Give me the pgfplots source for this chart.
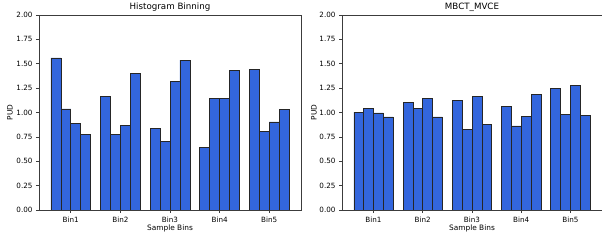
\documentclass[border=0pt]{standalone}
\usepackage{pgfplots}
\pgfplotsset{compat=1.18}
\usepackage{fontspec}
\setmainfont{DejaVu Sans}
\definecolor{barfill}{RGB}{51,102,221}
\definecolor{spine}{RGB}{60,60,60}
\newcommand{\tickfont}{\fontsize{7.2}{8}\selectfont}
\newcommand{\labfont}{\fontsize{7.4}{8}\selectfont}
\newcommand{\titfont}{\fontsize{8.7}{10}\selectfont}

% Histogram Binning
\pgfplotstableread{
x a b c d
0 1.559 1.036 0.889 0.776
1 1.162 0.776 0.868 1.402
2 0.838 0.704 1.320 1.538
3 0.639 1.145 1.145 1.432
4 1.446 0.807 0.903 1.032
}\histtab
% MBCT_MVCE
\pgfplotstableread{
x a b c d
0 1.005 1.043 0.995 0.954
1 1.105 1.043 1.142 0.954
2 1.128 0.828 1.167 0.879
3 1.063 0.862 0.964 1.187
4 1.249 0.982 1.282 0.968
}\mbcttab

\pgfplotsset{
  every axis title shift=0pt,
  mystyle/.style={
    scale only axis,
    anchor=south west,
    height=195pt,
    ymin=0, ymax=2,
    xmin=-0.64, xmax=4.64,
    xtick={0,1,2,3,4},
    xticklabels={Bin1,Bin2,Bin3,Bin4,Bin5},
    ytick={0,0.25,0.5,0.75,1,1.25,1.5,1.75,2},
    yticklabel style={/pgf/number format/fixed,/pgf/number format/fixed zerofill,/pgf/number format/precision=2},
    /pgf/number format/assume math mode=true,
    tick label style={font=\tickfont, text=black},
    tick align=outside,
    major tick length=3pt,
    tick style={spine, line width=0.6pt},
    xtick pos=bottom, ytick pos=left,
    axis line style={spine, line width=0.7pt},
    xlabel={Sample Bins},
    ylabel={PUD},
    xlabel style={font=\labfont, at={(axis description cs:0.5,0)}, anchor=center, yshift=-18pt},
    title style={font=\titfont, at={(axis description cs:0.5,1)}, anchor=center, yshift=8pt},
    every axis plot/.append style={ybar, bar width=0.2, fill=barfill, draw=black!85, line width=0.6pt},
  }
}

\begin{document}
\begin{tikzpicture}
\useasboundingbox (0,0) rectangle (602pt,240pt);
\begin{axis}[mystyle, at={(39pt,30pt)}, width=262pt, title={Histogram Binning},
  ylabel style={font=\labfont, at={(axis description cs:-0.1107,0.5)}, anchor=center, rotate=0}]
  \addplot[bar shift=-0.3] table[x=x,y=a] {\histtab};
  \addplot[bar shift=-0.1] table[x=x,y=b] {\histtab};
  \addplot[bar shift=0.1] table[x=x,y=c] {\histtab};
  \addplot[bar shift=0.3] table[x=x,y=d] {\histtab};
\end{axis}
\begin{axis}[mystyle, at={(342pt,30pt)}, width=260pt, title={MBCT\_MVCE},
  ylabel style={font=\labfont, at={(axis description cs:-0.1077,0.5)}, anchor=center, rotate=0}]
  \addplot[bar shift=-0.3] table[x=x,y=a] {\mbcttab};
  \addplot[bar shift=-0.1] table[x=x,y=b] {\mbcttab};
  \addplot[bar shift=0.1] table[x=x,y=c] {\mbcttab};
  \addplot[bar shift=0.3] table[x=x,y=d] {\mbcttab};
\end{axis}
\end{tikzpicture}
\end{document}
